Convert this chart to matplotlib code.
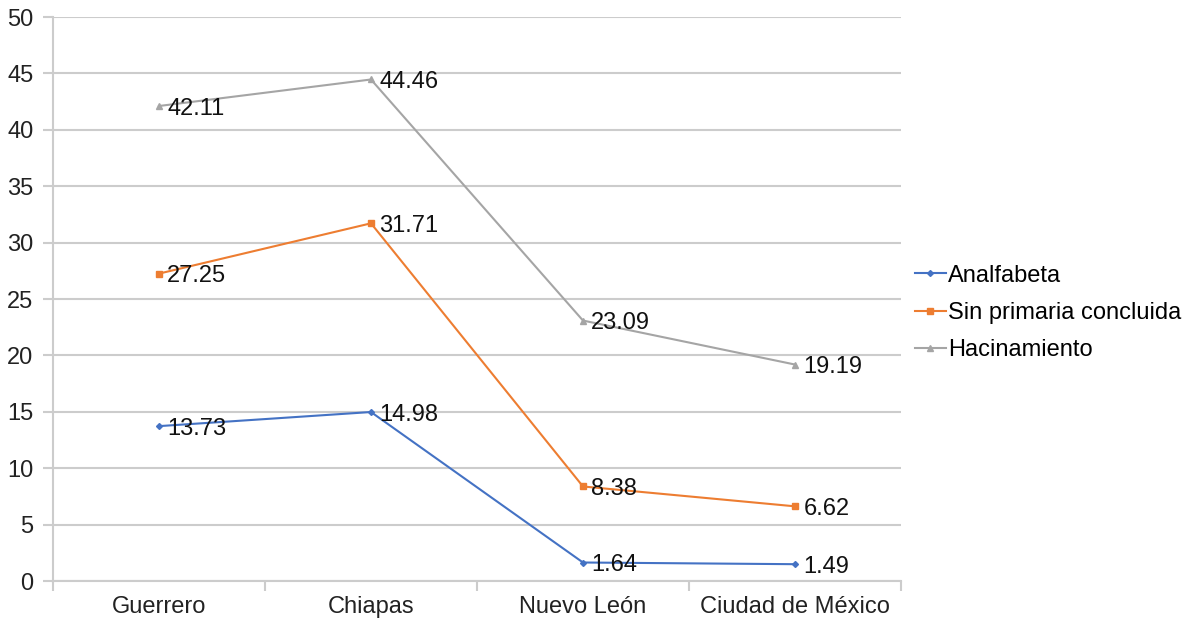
import matplotlib.pyplot as plt
import numpy as np

plt.rcParams['font.family'] = ['Liberation Sans', 'DejaVu Sans']

# Data
estados = ['Guerrero', 'Chiapas', 'Nuevo León', 'Ciudad de México']
analfabeta = [13.73, 14.98, 1.64, 1.49]
sin_primaria = [27.25, 31.71, 8.38, 6.62]
hacinamiento = [42.11, 44.46, 23.09, 19.19]

series = [
    ('Analfabeta', analfabeta, '#4472C4', 'D', 3),
    ('Sin primaria concluida', sin_primaria, '#ED7D31', 's', 4),
    ('Hacinamiento', hacinamiento, '#A5A5A5', '^', 4),
]

fs = 17
fig = plt.figure(figsize=(11.88, 6.25), dpi=100)
ax = fig.add_axes([0.0446, 0.0704, 0.7138, 0.9024])

x = np.arange(len(estados))
for name, vals, color, marker, ms in series:
    ax.plot(x, vals, color=color, linewidth=1.5, marker=marker, markersize=ms, label=name)
    for xi, v in zip(x, vals):
        ax.annotate(f'{v:.2f}', (xi, v), xytext=(6, -2), textcoords='offset points',
                    ha='left', va='center', fontsize=fs, color='#111111')

grid_color = '#cccccc'
ax.set_xlim(-0.5, 3.5)
ax.set_ylim(0, 50)
ax.set_yticks(range(0, 51, 5))
ax.yaxis.grid(True, color=grid_color, linewidth=1.5)
ax.set_axisbelow(True)

# category labels in the middle, tick marks on the boundaries
ax.set_xticks(np.arange(-0.5, 4, 1))
ax.set_xticklabels([])
ax.set_xticks(x, minor=True)
ax.set_xticklabels(estados, minor=True, fontsize=fs, color='#222222')
ax.tick_params(axis='x', which='minor', length=0, pad=11)
ax.tick_params(axis='x', which='major', length=7, width=1.5, color=grid_color)
ax.tick_params(axis='y', length=7, width=1.5, color=grid_color, labelsize=fs,
               labelcolor='#222222', pad=7)

for side in ['top', 'right']:
    ax.spines[side].set_visible(False)
for side in ['left', 'bottom']:
    ax.spines[side].set_color(grid_color)
    ax.spines[side].set_linewidth(1.5)

ax.legend(loc='center left', bbox_to_anchor=(1.0, 0.475), frameon=False,
          fontsize=fs, handlelength=1.3, handletextpad=0.1, labelspacing=0.65,
          borderaxespad=0.2, borderpad=0.4)

plt.savefig('out.png', dpi=100)
